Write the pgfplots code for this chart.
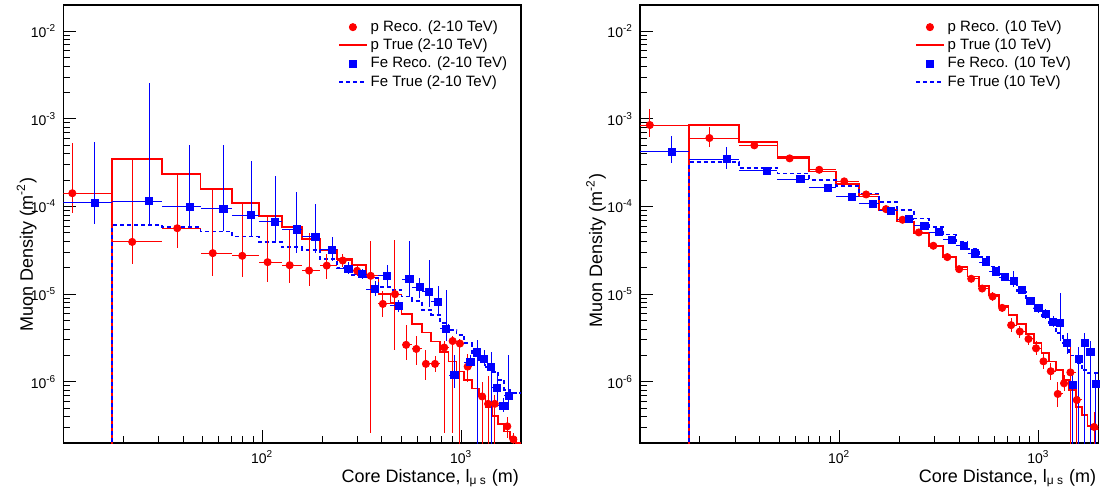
\documentclass[border=0pt]{standalone}
\usepackage{fontspec}
\setmainfont{Liberation Sans}
\usepackage{pgfplots}
\usepackage{pgfplotstable}
\pgfplotsset{compat=1.18}

% reconstructed points: x, y, lower/upper y end, bin edges
\pgfplotstableread{
x      y        ylo      yhi      xlo     xhi
11.1   1.42e-4  8.4e-5   5.3e-4   5       17.64
22.2   3.95e-5  2.2e-5   3.5e-4   17.64   31.36
37.4   5.66e-5  3.35e-5  2.3e-4   31.36   49.0
56.4   2.94e-5  1.63e-5  1.56e-4  49.0    70.56
79.4   2.74e-5  1.59e-5  1.09e-4  70.56   96.04
106.4  2.32e-5  1.39e-5  7.7e-5   96.04   125.44
137.4  2.14e-5  1.33e-5  5.4e-5   125.44  158.76
172    1.86e-5  1.25e-5  5.0e-5   158.76  196.0
211    2.12e-5  1.5e-5   2.9e-5   196.0   237.16
254    2.42e-5  2.05e-5  2.85e-5  237.16  282.24
300    1.85e-5  1.6e-5   2.1e-5   282.24  331.24
351    1.62e-5  2.6e-7   4.0e-5   331.24  384.16
404    7.74e-6  5.5e-6   1.1e-5   384.16  441.0
465    1.0e-5   2.3e-6   4.2e-5   441.0   501.76
529    2.64e-6  1.75e-6  4.5e-6   501.76  566.44
595    2.37e-6  1.56e-6  3.3e-6   566.44  635.04
665    1.6e-6   1.05e-6  2.3e-6   635.04  707.56
739    1.6e-6   1.3e-6   1.95e-6  707.56  784.0
822    2.46e-6  2.6e-7   2.9e-6   784.0   864.36
906    2.92e-6  2.6e-7   3.3e-6   864.36  948.64
986    2.73e-6  1e-8     3.1e-6   948.64  1036.84
1078   1.49e-6  1.0e-6   2.1e-6   1036.84 1128.96
1275   6.8e-7   1e-8     1.0e-6   1225.0  1324.96
1366   5.6e-7   1e-8     1.15e-6  1324.96 1428.84
1476   5.6e-7   1e-8     7e-7     1428.84 1536.64
1706   3.1e-7   2.3e-7   4.0e-7   1648.36 1764.0
1830   2.2e-7   1.8e-7   2.6e-7   1764.0  1883.56
}\lpreco

\pgfplotstableread{
x      y        ylo      yhi      xlo     xhi
14.4   1.11e-4  6.35e-5  5.4e-4   5       17.64
27.0   1.15e-4  6.2e-5   2.6e-3   17.64   31.36
43.2   1.0e-4   5.66e-5  5.1e-4   31.36   49.0
63.8   9.4e-5   5.2e-5   5.1e-4   49.0    70.56
88.1   7.97e-5  4.55e-5  3.27e-4  70.56   96.04
116    6.7e-5   4.0e-5   2.25e-4  96.04   125.44
149    5.5e-5   2.95e-5  1.45e-4  125.44  158.76
185    4.52e-5  2.95e-5  1.08e-4  158.76  196.0
225    3.2e-5   2.4e-5   4.55e-5  196.0   237.16
271    1.96e-5  1.7e-5   2.3e-5   237.16  282.24
318    1.69e-5  1.5e-5   1.95e-5  282.24  331.24
370    1.14e-5  9.5e-6   1.4e-5   331.24  384.16
424    1.62e-5  1.22e-5  2.16e-5  384.16  441.0
485    7.35e-6  6.3e-6   8.6e-6   441.0   501.76
549    1.48e-5  9.4e-6   4.0e-5   501.76  566.44
620    1.2e-5   9.0e-6   1.55e-5  566.44  635.04
690    1.06e-5  7.2e-6   2.47e-5  635.04  707.56
767    8.2e-6   6.0e-6   1.25e-5  707.56  784.0
841    4.05e-6  2.9e-6   1.12e-5  784.0   864.36
925    1.19e-6  8.4e-7   2.0e-6   864.36  948.64
1112   1.67e-6  1.4e-6   2.0e-6   1036.84 1128.96
1202   2.17e-6  1e-8     3.0e-6   1128.96 1225.0
1303   1.84e-6  1.5e-6   2.3e-6   1225.0  1324.96
1413   1.49e-6  1e-8     2.2e-6   1324.96 1428.84
1515   8.6e-7   5.5e-7   1.3e-6   1428.84 1536.64
1629   5.3e-7   4.5e-7   6.5e-7   1536.64 1648.36
1740   6.95e-7  4.8e-7   2.0e-6   1648.36 1764.0
}\lfereco

\pgfplotstableread{
x        y
17.64    1e-9
17.64    3.49e-4
31.36    2.37e-4
49.0     1.60e-4
70.56    1.11e-4
96.04    7.85e-5
125.44   5.8e-5
158.76   4.25e-5
196.0    3.2e-5
237.16   2.5e-5
282.24   2.16e-5
331.24   1.55e-5
384.16   1.0e-5
441.0    7.9e-6
501.76   5.96e-6
566.44   4.58e-6
635.04   3.65e-6
707.56   2.88e-6
784.0    2.21e-6
864.36   1.7e-6
948.64   1.31e-6
1036.84  1.05e-6
1128.96  8.4e-7
1225.0   6.8e-7
1324.96  5.1e-7
1428.84  4.07e-7
1536.64  3.3e-7
1648.36  2.7e-7
1764.0   2.26e-7
1883.56  2.0e-7
2007.04  2.0e-7
}\lptrue

\pgfplotstableread{
x        y
17.64    1e-9
17.64    6.1e-5
31.36    5.8e-5
49.0     5.2e-5
70.56    4.55e-5
96.04    3.95e-5
125.44   3.45e-5
158.76   3.2e-5
196.0    2.5e-5
237.16   1.98e-5
282.24   1.66e-5
331.24   1.52e-5
384.16   1.2e-5
441.0    1.12e-5
501.76   9.4e-6
566.44   8.4e-6
635.04   6.6e-6
707.56   5.8e-6
784.0    4.66e-6
864.36   3.9e-6
948.64   3.43e-6
1036.84  2.75e-6
1128.96  2.1e-6
1225.0   1.7e-6
1324.96  1.48e-6
1428.84  1.3e-6
1536.64  1.05e-6
1648.36  8.1e-7
1764.0   7.4e-7
1883.56  7.4e-7
2007.04  7.4e-7
}\lfetrue

\pgfplotstableread{
x      y        ylo      yhi      xlo     xhi
11.2   8.53e-4  6.3e-4   1.3e-3   5       17.64
22.3   6.06e-4  4.8e-4   8.2e-4   17.64   31.36
37.5   5.0e-4   4.7e-4   5.3e-4   31.36   49.0
56.4   3.55e-4  3.35e-4  3.75e-4  49.0    70.56
79.4   2.63e-4  2.5e-4   2.76e-4  70.56   96.04
106    1.94e-4  1.84e-4  2.05e-4  96.04   125.44
136.5  1.375e-4 1.3e-4   1.45e-4  125.44  158.76
171.7  9.35e-5  8.8e-5   9.9e-5   158.76  196.0
208    7.07e-5  6.6e-5   7.5e-5   196.0   237.16
251    5.07e-5  4.75e-5  5.4e-5   237.16  282.24
297    3.57e-5  3.35e-5  3.8e-5   282.24  331.24
349    2.65e-5  2.45e-5  2.85e-5  331.24  384.16
400    1.93e-5  1.78e-5  2.08e-5  384.16  441.0
460    1.5e-5   1.37e-5  1.63e-5  441.0   501.76
522    1.16e-5  1.05e-5  1.28e-5  501.76  566.44
589    9.4e-6   8.4e-6   1.05e-5  566.44  635.04
658    6.98e-6  6.2e-6   7.8e-6   635.04  707.56
730    4.43e-6  3.7e-6   5.3e-6   707.56  784.0
807    3.74e-6  3.2e-6   4.35e-6  784.0   864.36
892    3.08e-6  2.6e-6   3.6e-6   864.36  948.64
973    2.41e-6  2.0e-6   2.9e-6   948.64  1036.84
1061   1.71e-6  1.4e-6   2.1e-6   1036.84 1128.96
1154   1.32e-6  1.05e-6  1.65e-6  1128.96 1225.0
1251   7.26e-7  5.2e-7   1.0e-6   1225.0  1324.96
1345   9.6e-7   7.8e-7   1.2e-6   1324.96 1428.84
1448   1.28e-6  1e-8     2.5e-6   1428.84 1536.64
1559   6.2e-7   1e-8     1.0e-6   1536.64 1648.36
1905   3.05e-7  1e-8     4.5e-7   1883.56 2007.04
}\rpreco

\pgfplotstableread{
x      y        ylo      yhi      xlo     xhi
14.4   4.2e-4   3.14e-4  6.45e-4  5       17.64
27.3   3.49e-4  2.7e-4   4.8e-4   17.64   31.36
43.2   2.57e-4  2.4e-4   2.75e-4  31.36   49.0
63.8   2.06e-4  1.95e-4  2.18e-4  49.0    70.56
87.8   1.64e-4  1.55e-4  1.73e-4  70.56   96.04
115.4  1.29e-4  1.22e-4  1.36e-4  96.04   125.44
147.6  1.07e-4  1.01e-4  1.13e-4  125.44  158.76
182    8.95e-5  8.5e-5   9.4e-5   158.76  196.0
223    7.2e-5   6.8e-5   7.6e-5   196.0   237.16
268    6.04e-5  5.7e-5   6.4e-5   237.16  282.24
316    5.1e-5   4.8e-5   5.4e-5   282.24  331.24
367    4.18e-5  3.9e-5   4.45e-5  331.24  384.16
421    3.57e-5  3.35e-5  3.8e-5   384.16  441.0
480    2.92e-5  2.73e-5  3.12e-5  441.0   501.76
543    2.32e-5  2.15e-5  2.5e-5   501.76  566.44
611    1.82e-5  1.68e-5  1.97e-5  566.44  635.04
678    1.56e-5  1.42e-5  1.7e-5   635.04  707.56
753    1.42e-5  1.2e-5   1.85e-5  707.56  784.0
829    1.12e-5  1.0e-5   1.25e-5  784.0   864.36
912    8.4e-6   7.5e-6   9.4e-6   864.36  948.64
1000   6.92e-6  6.1e-6   7.8e-6   948.64  1036.84
1088   5.96e-6  5.2e-6   6.8e-6   1036.84 1128.96
1185   4.87e-6  4.2e-6   5.6e-6   1128.96 1225.0
1285   4.7e-6   2.9e-6   1.02e-5  1225.0  1324.96
1393   2.75e-6  2.1e-6   3.6e-6   1324.96 1428.84
1489   9.2e-7   1e-8     1.3e-6   1428.84 1536.64
1596   1.81e-6  1e-8     2.5e-6   1536.64 1648.36
1711   2.8e-6   1e-8     3.6e-6   1648.36 1764.0
1825   2.19e-6  1e-8     2.9e-6   1764.0  1883.56
1946   9.5e-7   1e-8     1.3e-6   1883.56 2007.04
}\rfereco

\pgfplotstableread{
x        y
17.64    1e-9
17.64    8.47e-4
31.36    5.5e-4
49.0     3.65e-4
70.56    2.52e-4
96.04    1.81e-4
125.44   1.3e-4
158.76   9.0e-5
196.0    6.76e-5
237.16   4.97e-5
282.24   3.57e-5
331.24   2.65e-5
384.16   2.03e-5
441.0    1.59e-5
501.76   1.25e-5
566.44   9.8e-6
635.04   7.36e-6
707.56   5.8e-6
784.0    4.58e-6
864.36   3.52e-6
948.64   2.8e-6
1036.84  2.15e-6
1128.96  1.7e-6
1225.0   1.36e-6
1324.96  1.05e-6
1428.84  8.05e-7
1536.64  5.2e-7
1648.36  4.2e-7
1764.0   3.1e-7
1883.56  2.9e-7
2007.04  2.9e-7
}\rptrue

\pgfplotstableread{
x        y
17.64    1e-9
17.64    3.23e-4
31.36    2.76e-4
49.0     2.39e-4
70.56    2.03e-4
96.04    1.73e-4
125.44   1.4e-4
158.76   1.12e-4
196.0    9.2e-5
237.16   7.3e-5
282.24   5.9e-5
331.24   4.8e-5
384.16   4.0e-5
441.0    3.27e-5
501.76   2.65e-5
566.44   2.07e-5
635.04   1.71e-5
707.56   1.4e-5
784.0    1.07e-5
864.36   8.6e-6
948.64   6.9e-6
1036.84  5.6e-6
1128.96  4.66e-6
1225.0   3.58e-6
1324.96  2.75e-6
1428.84  2.0e-6
1536.64  1.65e-6
1648.36  1.36e-6
1764.0   1.25e-6
1883.56  1.25e-6
2007.04  1.25e-6
}\rfetrue

\begin{document}
\begin{tikzpicture}
\path[use as bounding box] (0,0) rectangle (550.5pt,246pt);

% ---------------- left panel ----------------
\begin{axis}[at={(31.65pt,24.5pt)}, anchor=south west,
    xmode=log, ymode=log, scale only axis,
    width=228.85pt, height=219pt,
    xmin=10, xmax=2000, ymin=2e-7, ymax=2e-2,
    axis line style={line width=0.7pt},
    tick style={black, line width=0.5pt},
    tick align=inside, xtick pos=bottom, ytick pos=left,
    major tick length=6.5pt, minor tick length=3.3pt,
    xtick={100,1000}, xticklabels={10\textsuperscript{2},10\textsuperscript{3}},
    minor xtick={20,30,40,50,60,70,80,90,200,300,400,500,600,700,800,900},
    ytick={1e-6,1e-5,1e-4,1e-3,1e-2},
    yticklabels={10\textsuperscript{-6},10\textsuperscript{-5},10\textsuperscript{-4},10\textsuperscript{-3},10\textsuperscript{-2}},
    minor ytick={3e-7,4e-7,5e-7,6e-7,7e-7,8e-7,9e-7,
      2e-6,3e-6,4e-6,5e-6,6e-6,7e-6,8e-6,9e-6,
      2e-5,3e-5,4e-5,5e-5,6e-5,7e-5,8e-5,9e-5,
      2e-4,3e-4,4e-4,5e-4,6e-4,7e-4,8e-4,9e-4,
      2e-3,3e-3,4e-3,5e-3,6e-3,7e-3,8e-3,9e-3},
    tick label style={font=\fontsize{7}{8}\selectfont},
    xlabel={Core Distance, l\textsubscript{μ s} (m)},
    ylabel={Muon Density (m\textsuperscript{-2})},
    label style={font=\fontsize{9}{10}\selectfont, inner sep=0pt},
    xlabel style={anchor=base east, at={(axis description cs:0.996,-0.0913)}},
    ylabel style={at={(axis description cs:-0.080,0.43)}, anchor=center},
    legend style={at={(axis description cs:0.6,0.970)}, anchor=north west,
      draw=none, fill=none, font=\fontsize{7.5}{9}\selectfont, row sep=0.5pt,
      inner sep=0pt, nodes={inner ysep=0.5pt, inner xsep=1.6pt, text height=6pt, text depth=1.6pt}},
    legend cell align=left,
    legend image code/.code={\draw[mark repeat=2,mark phase=2,#1] plot coordinates {(0cm,0cm) (0.24cm,0cm) (0.48cm,0cm)};},
  ]
  \addplot[const plot mark left, red, line width=0.9pt, no marks, forget plot] table[x=x, y=y] {\lptrue};
  \addplot[const plot mark left, blue, line width=0.9pt, dash pattern=on 2pt off 1.5pt, no marks, forget plot] table[x=x, y=y] {\lfetrue};
  \addplot[only marks, forget plot, mark=*, red, mark size=1.8pt,
    error bars/.cd, x dir=both, y dir=both, x explicit, y explicit, error mark=none,
    error bar style={red, line width=0.5pt, solid}]
    table[x=x, y=y,
      x error plus expr=\thisrow{xhi}-\thisrow{x}, x error minus expr=\thisrow{x}-\thisrow{xlo},
      y error plus expr=\thisrow{yhi}-\thisrow{y}, y error minus expr=\thisrow{y}-\thisrow{ylo}] {\lpreco};
  \addplot[only marks, forget plot, mark=square*, blue, mark size=1.8pt,
    error bars/.cd, x dir=both, y dir=both, x explicit, y explicit, error mark=none,
    error bar style={blue, line width=0.5pt, solid}]
    table[x=x, y=y,
      x error plus expr=\thisrow{xhi}-\thisrow{x}, x error minus expr=\thisrow{x}-\thisrow{xlo},
      y error plus expr=\thisrow{yhi}-\thisrow{y}, y error minus expr=\thisrow{y}-\thisrow{ylo}] {\lfereco};
  \addlegendimage{only marks, mark=*, color=red, mark size=1.8pt}
  \addlegendentry{p Reco. (2-10 TeV)}
  \addlegendimage{color=red, solid, line width=0.9pt}
  \addlegendentry{p True (2-10 TeV)}
  \addlegendimage{only marks, mark=square*, color=blue, mark size=1.8pt}
  \addlegendentry{Fe Reco. (2-10 TeV)}
  \addlegendimage{color=blue, line width=0.9pt, dash pattern=on 2pt off 1.5pt}
  \addlegendentry{Fe True (2-10 TeV)}
\end{axis}

% ---------------- right panel ----------------
\begin{axis}[at={(320pt,24.5pt)}, anchor=south west,
    xmode=log, ymode=log, scale only axis,
    width=229.15pt, height=219pt,
    xmin=10, xmax=2000, ymin=2e-7, ymax=2e-2,
    axis line style={line width=0.7pt},
    tick style={black, line width=0.5pt},
    tick align=inside, xtick pos=bottom, ytick pos=left,
    major tick length=6.5pt, minor tick length=3.3pt,
    xtick={100,1000}, xticklabels={10\textsuperscript{2},10\textsuperscript{3}},
    minor xtick={20,30,40,50,60,70,80,90,200,300,400,500,600,700,800,900},
    ytick={1e-6,1e-5,1e-4,1e-3,1e-2},
    yticklabels={10\textsuperscript{-6},10\textsuperscript{-5},10\textsuperscript{-4},10\textsuperscript{-3},10\textsuperscript{-2}},
    minor ytick={3e-7,4e-7,5e-7,6e-7,7e-7,8e-7,9e-7,
      2e-6,3e-6,4e-6,5e-6,6e-6,7e-6,8e-6,9e-6,
      2e-5,3e-5,4e-5,5e-5,6e-5,7e-5,8e-5,9e-5,
      2e-4,3e-4,4e-4,5e-4,6e-4,7e-4,8e-4,9e-4,
      2e-3,3e-3,4e-3,5e-3,6e-3,7e-3,8e-3,9e-3},
    tick label style={font=\fontsize{7}{8}\selectfont},
    xlabel={Core Distance, l\textsubscript{μ s} (m)},
    ylabel={Muon Density (m\textsuperscript{-2})},
    label style={font=\fontsize{9}{10}\selectfont, inner sep=0pt},
    xlabel style={anchor=base east, at={(axis description cs:0.996,-0.0913)}},
    ylabel style={at={(axis description cs:-0.096,0.44)}, anchor=center},
    legend style={at={(axis description cs:0.6,0.970)}, anchor=north west,
      draw=none, fill=none, font=\fontsize{7.5}{9}\selectfont, row sep=0.5pt,
      inner sep=0pt, nodes={inner ysep=0.5pt, inner xsep=1.6pt, text height=6pt, text depth=1.6pt}},
    legend cell align=left,
    legend image code/.code={\draw[mark repeat=2,mark phase=2,#1] plot coordinates {(0cm,0cm) (0.24cm,0cm) (0.48cm,0cm)};},
  ]
  \addplot[const plot mark left, red, line width=0.9pt, no marks, forget plot] table[x=x, y=y] {\rptrue};
  \addplot[const plot mark left, blue, line width=0.9pt, dash pattern=on 2pt off 1.5pt, no marks, forget plot] table[x=x, y=y] {\rfetrue};
  \addplot[only marks, forget plot, mark=*, red, mark size=1.8pt,
    error bars/.cd, x dir=both, y dir=both, x explicit, y explicit, error mark=none,
    error bar style={red, line width=0.5pt, solid}]
    table[x=x, y=y,
      x error plus expr=\thisrow{xhi}-\thisrow{x}, x error minus expr=\thisrow{x}-\thisrow{xlo},
      y error plus expr=\thisrow{yhi}-\thisrow{y}, y error minus expr=\thisrow{y}-\thisrow{ylo}] {\rpreco};
  \addplot[only marks, forget plot, mark=square*, blue, mark size=1.8pt,
    error bars/.cd, x dir=both, y dir=both, x explicit, y explicit, error mark=none,
    error bar style={blue, line width=0.5pt, solid}]
    table[x=x, y=y,
      x error plus expr=\thisrow{xhi}-\thisrow{x}, x error minus expr=\thisrow{x}-\thisrow{xlo},
      y error plus expr=\thisrow{yhi}-\thisrow{y}, y error minus expr=\thisrow{y}-\thisrow{ylo}] {\rfereco};
  \addlegendimage{only marks, mark=*, color=red, mark size=1.8pt}
  \addlegendentry{p Reco. (10 TeV)}
  \addlegendimage{color=red, solid, line width=0.9pt}
  \addlegendentry{p True (10 TeV)}
  \addlegendimage{only marks, mark=square*, color=blue, mark size=1.8pt}
  \addlegendentry{Fe Reco. (10 TeV)}
  \addlegendimage{color=blue, line width=0.9pt, dash pattern=on 2pt off 1.5pt}
  \addlegendentry{Fe True (10 TeV)}
\end{axis}
\end{tikzpicture}
\end{document}
